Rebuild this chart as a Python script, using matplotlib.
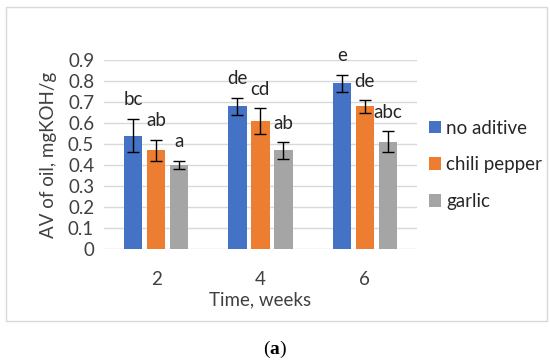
import numpy as np
import matplotlib.pyplot as plt
from matplotlib.patches import Rectangle

# =========================
# DATA
# =========================
weeks = ["2", "4", "6"]
series = ["no aditive", "chili pepper", "garlic"]
no_aditive = [0.54, 0.68, 0.79]
chili_pepper = [0.47, 0.61, 0.68]
garlic = [0.40, 0.47, 0.51]
err_no_aditive = [0.08, 0.04, 0.04]
err_chili = [0.05, 0.06, 0.03]
err_garlic = [0.02, 0.04, 0.05]
letters_no_aditive = ["bc", "de", "e"]
letters_chili = ["ab", "cd", "de"]
letters_garlic = ["a", "ab", "abc"]

values = [no_aditive, chili_pepper, garlic]
errors = [err_no_aditive, err_chili, err_garlic]
letters = [letters_no_aditive, letters_chili, letters_garlic]
colors = ["#4472C4", "#ED7D31", "#A5A5A5"]

plt.rcParams["font.family"] = ["Lato", "DejaVu Sans"]
plt.rcParams["mathtext.fontset"] = "custom"
plt.rcParams["mathtext.bf"] = "Liberation Serif:bold"
plt.rcParams["mathtext.rm"] = "Liberation Serif"

fig = plt.figure(figsize=(5.5, 3.64), dpi=100)
ax = fig.add_axes([0.189, 0.316, 0.569, 0.519])

x = np.arange(len(weeks))
width = 0.175
step = 0.22
for i, name in enumerate(series):
    pos = x + (i - 1) * step
    ax.bar(pos, values[i], width, color=colors[i], label=name, zorder=2)
    ax.errorbar(pos, values[i], yerr=errors[i], fmt="none", ecolor="black",
                elinewidth=1, capsize=4, capthick=1, zorder=3)
    for p, v, e, t in zip(pos, values[i], errors[i], letters[i]):
        ax.text(p, v + e + 0.09, t, ha="center", va="center", fontsize=13.5,
                color="#262626")

ax.set_xlim(-0.5, 2.5)
ax.set_ylim(0, 0.9)
ax.set_yticks(np.arange(0, 0.91, 0.1))
ax.set_yticklabels(["0"] + [f"{v:.1f}" for v in np.arange(0.1, 0.91, 0.1)])
ax.set_xticks(x)
ax.set_xticklabels(weeks)
ax.tick_params(axis="y", length=0, pad=7, labelsize=13.5, labelcolor="#404040")
ax.tick_params(axis="x", length=0, pad=16, labelsize=13.5, labelcolor="#404040")
ax.yaxis.grid(True, color="#D9D9D9", linewidth=1, zorder=0)
ax.set_axisbelow(True)
for s in ax.spines.values():
    s.set_visible(False)

ax.set_xlabel("Time, weeks", fontsize=13.5, color="#404040", labelpad=2)
ax.set_ylabel("AV of oil, mgKOH/g", fontsize=13.5, color="#404040", labelpad=8)

ax.legend(loc="upper left", bbox_to_anchor=(1.015, 0.725), frameon=False,
          fontsize=13.5, handlelength=0.65, handleheight=0.65, handletextpad=0.25,
          labelspacing=1.05, labelcolor="#262626", borderaxespad=0)

# chart frame
fig.patches.append(Rectangle((6 / 550, 1 - 321 / 364), 541 / 550, 314 / 364,
                             transform=fig.transFigure, fill=False,
                             edgecolor="#D9D9D9", linewidth=1))

fig.text(0.5, 1 - 349 / 364, r"($\mathbf{a}$)", ha="center", va="center",
         fontsize=14, family="Liberation Serif")

fig.savefig("out.png", dpi=100)
